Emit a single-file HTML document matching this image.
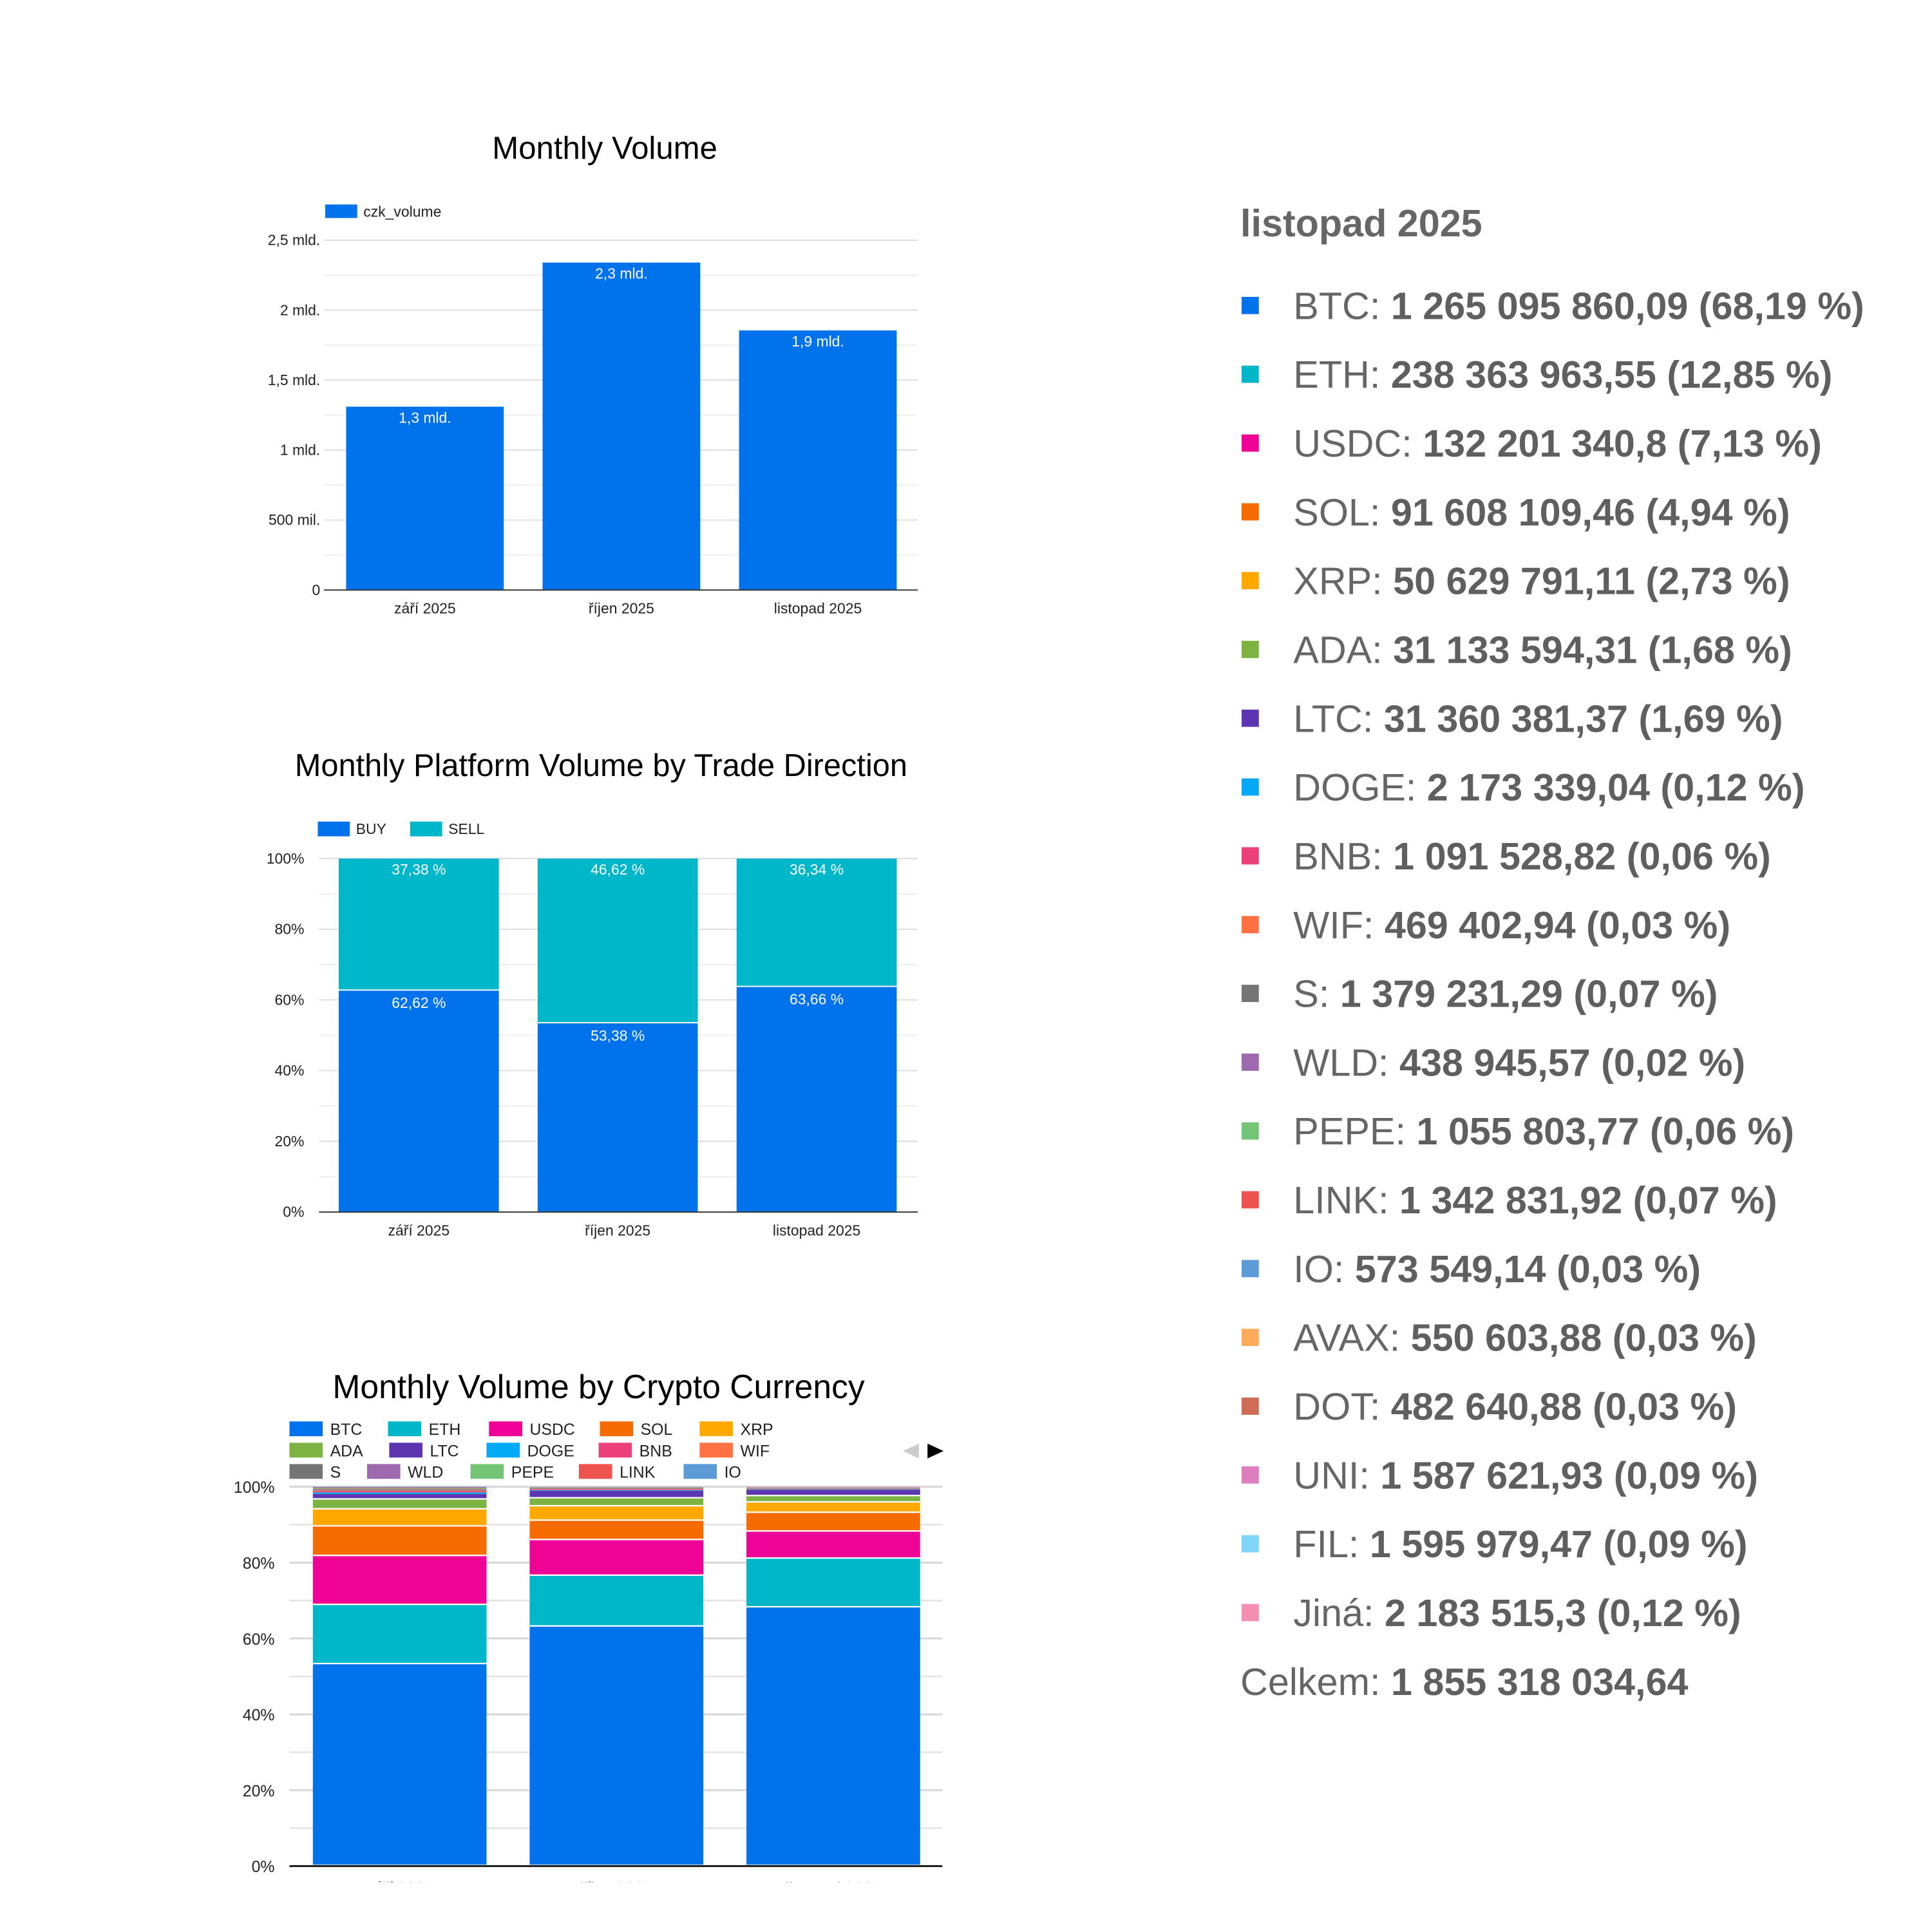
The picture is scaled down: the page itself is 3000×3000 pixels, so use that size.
<!DOCTYPE html>
<html><head><meta charset="utf-8"><style>
html,body{margin:0;padding:0;background:#fff;}
svg{display:block;font-family:"Liberation Sans",Arial,sans-serif;}
</style></head><body>
<svg id="root" width="3000" height="3000" viewBox="0 0 1568.5 1568.5" xmlns="http://www.w3.org/2000/svg">
<rect width="1570" height="1570" fill="#fff"/>
</svg>
<script>
// ---------- DATA ----------
const months = ["září 2025","říjen 2025","listopad 2025"];
const volumeMld = [1.31, 2.34, 1.855];
const volumeLabels = ["1,3 mld.","2,3 mld.","1,9 mld."];
const volTicks = [0,0.5,1,1.5,2,2.5];
const volTickLabels = ["0","500 mil.","1 mld.","1,5 mld.","2 mld.","2,5 mld."];
const buyPct = [62.62, 53.38, 63.66];
const sellPct = [37.38, 46.62, 36.34];
const buyLabels = ["62,62 %","53,38 %","63,66 %"];
const sellLabels = ["37,38 %","46,62 %","36,34 %"];
const pctTicks = [0,20,40,60,80,100];
const coins = ["BTC","ETH","USDC","SOL","XRP","ADA","LTC","DOGE","BNB","WIF","S","WLD","PEPE","LINK","IO","OTHER"];
const coinSep = [53.2,15.6,12.9,7.8,4.5,2.6,1.5,0.4,0.3,0.2,0.2,0.2,0.2,0.2,0.2,0];
const coinOct = [63.1,13.4,9.4,5.1,3.8,2.1,2.0,0.2,0.2,0.1,0.1,0.1,0.1,0.1,0.1,0.1];
const coinNov = [68.19,12.85,7.13,4.94,2.73,1.68,1.69,0.12,0.06,0.03,0.07,0.02,0.06,0.07,0.03,0.36];
const summaryNames = ["BTC","ETH","USDC","SOL","XRP","ADA","LTC","DOGE","BNB","WIF","S","WLD","PEPE","LINK","IO","AVAX","DOT","UNI","FIL","Jiná"];
const summaryValues = ["1 265 095 860,09","238 363 963,55","132 201 340,8","91 608 109,46","50 629 791,11","31 133 594,31","31 360 381,37","2 173 339,04","1 091 528,82","469 402,94","1 379 231,29","438 945,57","1 055 803,77","1 342 831,92","573 549,14","550 603,88","482 640,88","1 587 621,93","1 595 979,47","2 183 515,3"];
const summaryPct = ["68,19","12,85","7,13","4,94","2,73","1,68","1,69","0,12","0,06","0,03","0,07","0,02","0,06","0,07","0,03","0,03","0,03","0,09","0,09","0,12"];

const COL = {BTC:"#0073EC",ETH:"#00B6C9",USDC:"#EE0396",SOL:"#F56B00",XRP:"#FFA900",ADA:"#7CB342",LTC:"#5E35B1",DOGE:"#03A9F4",BNB:"#EC407A",WIF:"#FF7043",S:"#757575",WLD:"#9E69AF",PEPE:"#74C476",LINK:"#EF5350",IO:"#5C9BD5",AVAX:"#FFAB5A",DOT:"#CF6C56",UNI:"#DD7FBE","FIL":"#80D4F7","Jiná":"#F48FB1",OTHER:"#C9A0B8"};

const NS="http://www.w3.org/2000/svg";
const root=document.getElementById('root');
function el(tag,attrs,parent,text){const e=document.createElementNS(NS,tag);for(const k in attrs)e.setAttribute(k,attrs[k]);if(text!==undefined)e.textContent=text;(parent||root).appendChild(e);return e;}

// ---------- CHART 1 ----------
const g1=el('g',{});


let t=el('text',{x:491,y:129,'text-anchor':'middle','font-size':25.7,fill:'#000'},g1,'Monthly Volume');


let lg=el('g',{},g1);


el('rect',{x:264,y:166,width:26,height:11,fill:COL.BTC},lg);
el('text',{x:295,y:176,'font-size':12,fill:'#222'},lg,'czk_volume');
const c1={x0:263,x1:745,y0:479,yTop:195,max:2.5};
const y1=v=>c1.y0-(v/c1.max)*(c1.y0-c1.yTop);
for(let v=0.25;v<=2.5;v+=0.25){el('line',{x1:c1.x0,x2:c1.x1,y1:y1(v),y2:y1(v),stroke:(Math.abs(v*2-Math.round(v*2))<0.01)?'#ddd':'#eee','stroke-width':1},g1);}
volTicks.forEach((v,i)=>{const tt=el('text',{x:260,y:y1(v)+4,'text-anchor':'end','font-size':12,fill:'#222'},g1,volTickLabels[i]);

});
const bw1=128, step1=159.5, start1=281;
volumeMld.forEach((v,i)=>{const x=start1+i*step1;
const b=el('rect',{x:x,y:y1(v),width:bw1,height:c1.y0-y1(v),fill:COL.BTC},g1);


el('text',{x:x+bw1/2,y:y1(v)+13,'text-anchor':'middle','font-size':12,fill:'#fff'},g1,volumeLabels[i]);
const xl=el('text',{x:x+bw1/2,y:498,'text-anchor':'middle','font-size':12,fill:'#222'},g1,months[i]);

});
el('line',{x1:c1.x0,x2:c1.x1,y1:c1.y0,y2:c1.y0,stroke:'#333','stroke-width':1},g1);

// ---------- CHART 2 ----------
const g2=el('g',{});


t=el('text',{x:488,y:630,'text-anchor':'middle','font-size':25.5,fill:'#000'},g2,'Monthly Platform Volume by Trade Direction');


[["BUY",258,289,COL.BTC],["SELL",333,364,COL.ETH]].forEach(a=>{const l=el('g',{},g2);


el('rect',{x:a[1],y:667,width:26,height:12,fill:a[3]},l);el('text',{x:a[2],y:677,'font-size':12,fill:'#222'},l,a[0]);});
const c2={x0:259,x1:745,y0:984,yTop:697};
const y2=v=>c2.y0-(v/100)*(c2.y0-c2.yTop);
for(let v=10;v<=100;v+=10)el('line',{x1:c2.x0,x2:c2.x1,y1:y2(v),y2:y2(v),stroke:v%20?'#eee':'#ddd'},g2);
pctTicks.forEach(v=>{const tt=el('text',{x:247,y:y2(v)+4,'text-anchor':'end','font-size':12,fill:'#222'},g2,v+'%');

});
const bw2=130, step2=161.5, start2=275;
months.forEach((m,i)=>{const x=start2+i*step2;const tot=buyPct[i]+sellPct[i];
const bb=el('rect',{x:x,y:y2(buyPct[i]/tot*100),width:bw2,height:c2.y0-y2(buyPct[i]/tot*100),fill:COL.BTC},g2);


const sb=el('rect',{x:x,y:y2(100),width:bw2,height:y2(buyPct[i]/tot*100)-y2(100)-1,fill:COL.ETH},g2);


el('text',{x:x+bw2/2,y:y2(100)+13,'text-anchor':'middle','font-size':12,fill:'#fff'},g2,sellLabels[i]);
el('text',{x:x+bw2/2,y:y2(buyPct[i]/tot*100)+14,'text-anchor':'middle','font-size':12,fill:'#fff'},g2,buyLabels[i]);
const xl=el('text',{x:x+bw2/2,y:1003,'text-anchor':'middle','font-size':12,fill:'#222'},g2,m);

});
el('line',{x1:c2.x0,x2:c2.x1,y1:c2.y0,y2:c2.y0,stroke:'#333'},g2);

// ---------- CHART 3 ----------
const g3=el('g',{});


t=el('text',{x:486,y:1135,'text-anchor':'middle','font-size':27,fill:'#000'},g3,'Monthly Volume by Crypto Currency');


const legendRows=[[["BTC",235],["ETH",315],["USDC",397],["SOL",487],["XRP",568]],[["ADA",235],["LTC",316],["DOGE",395],["BNB",486],["WIF",568]],[["S",235],["WLD",298],["PEPE",382],["LINK",470],["IO",555]]];
legendRows.forEach((row,r)=>row.forEach(it=>{const l=el('g',{},g3);


const yy=1154+r*17.3;el('rect',{x:it[1],y:yy,width:27,height:12,fill:COL[it[0]]},l);
el('text',{x:it[1]+33,y:yy+11,'font-size':13,fill:'#222'},l,it[0]);}));
let ar=el('path',{d:'M746 1172 L733 1178 L746 1184 Z',fill:'#ccc'},g3);


ar=el('path',{d:'M753 1172 L766 1178 L753 1184 Z',fill:'#000'},g3);


const c3={x0:235,x1:765,y0:1515,yTop:1207};
const y3=v=>c3.y0-(v/100)*(c3.y0-c3.yTop);
for(let v=10;v<=100;v+=10)el('line',{x1:c3.x0,x2:c3.x1,y1:y3(v),y2:y3(v),stroke:v%20?'#e6e6e6':'#d6d6d6','stroke-width':1.5},g3);
pctTicks.forEach(v=>{const tt=el('text',{x:223,y:y3(v)+5,'text-anchor':'end','font-size':13,fill:'#222'},g3,v+'%');

});
const series3=[coinSep,coinOct,coinNov];
const bw3=141, step3=176, start3=254;
series3.forEach((vals,i)=>{const x=start3+i*step3;const tot=vals.reduce((a,b)=>a+b,0);let cum=0;
vals.forEach((v,k)=>{if(v<=0)return;const a=cum/tot*100;cum+=v;const b=cum/tot*100;
const r=el('rect',{x:x,y:y3(b),width:bw3,height:Math.max(0.3,y3(a)-y3(b)-(v>1?1.2:0)),fill:COL[coins[k]]},g3);

});
const xl=el('text',{x:x+bw3/2,y:1537,'text-anchor':'middle','font-size':13,fill:'#222'},g3,months[i]);

});
el('rect',{x:150,y:1528,width:700,height:45,fill:'#fff'},g3);
el('line',{x1:c3.x0,x2:c3.x1,y1:c3.y0,y2:c3.y0,stroke:'#111','stroke-width':1.5},g3);

// ---------- SUMMARY ----------
const g4=el('g',{});


t=el('text',{x:1007,y:192,'font-size':31,'font-weight':'bold',fill:'#666'},g4,'listopad 2025');


summaryNames.forEach((n,i)=>{const yy=248+i*55.85;const row=el('g',{},g4);


el('rect',{x:1008,y:yy-7,width:14,height:14,fill:COL[n]},row);
const tx=el('text',{x:1050,y:yy+11,'font-size':31,fill:'#666'},row);
el('tspan',{},tx,n+': ');el('tspan',{'font-weight':'bold',fill:'#5f5f5f'},tx,summaryValues[i]+' ('+summaryPct[i]+' %)');});
const tot=el('text',{x:1007,y:1376,'font-size':31,fill:'#666'},g4);


el('tspan',{},tot,'Celkem: ');el('tspan',{'font-weight':'bold',fill:'#5f5f5f'},tot,'1 855 318 034,64');
</script>
</body></html>
